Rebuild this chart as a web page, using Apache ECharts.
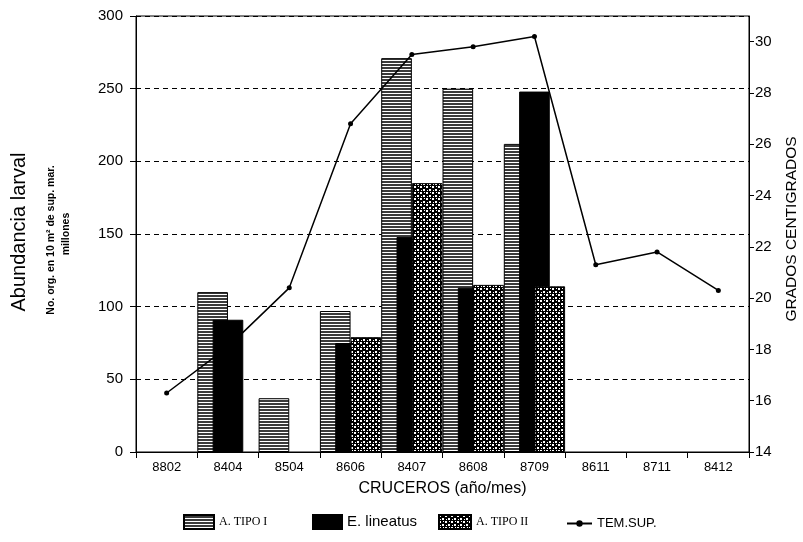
<!DOCTYPE html>
<html>
<head>
<meta charset="utf-8">
<script src="https://cdn.jsdelivr.net/npm/echarts@6/dist/echarts.min.js"></script>
<style>
  html, body { margin: 0; padding: 0; background: #fff; }
  #chart { width: 803px; height: 542px; }
</style>
</head>
<body>
<div id="chart"></div>
<script>
// Cruises (year/month)
const categories = ['8802', '8404', '8504', '8606', '8407', '8608', '8709', '8611', '8711', '8412'];
// Larval abundance, millions of organisms per 10 m² of sea surface
const tipoI = [null, 110, 37, 97, 271, 250, 212, null, null, null];
const lineatus = [null, 91, null, 75, 148, 113, 248, null, null, null];
const tipoII = [null, null, null, 79, 185, 115, 114, null, null, null];
// Surface temperature (°C)
const temSup = [16.3, 18.1, 20.4, 26.8, 29.5, 29.8, 30.2, 21.3, 21.8, 20.3];

const leftTicks = [0, 50, 100, 150, 200, 250, 300];
const rightTicks = [14, 16, 18, 20, 22, 24, 26, 28, 30];

// Horizontal hatching fill
function stripePattern() {
  const c = document.createElement('canvas');
  c.width = 4; c.height = 3;
  const g = c.getContext('2d');
  g.fillStyle = '#ffffff'; g.fillRect(0, 0, 4, 3);
  g.fillStyle = '#3a3a3a'; g.fillRect(0, 1, 4, 2);
  return c;
}
// Black fill with white speckles
function speckPattern() {
  const c = document.createElement('canvas');
  c.width = 6; c.height = 6;
  const g = c.getContext('2d');
  g.fillStyle = '#000000'; g.fillRect(0, 0, 6, 6);
  g.fillStyle = '#ffffff';
  g.fillRect(0, 0, 2, 2);
  g.fillRect(3, 3, 2, 2);
  g.fillRect(4, 0, 1, 1);
  g.fillRect(1, 4, 1, 1);
  return c;
}

const stripeFill = { image: stripePattern(), repeat: 'repeat' };
const speckFill = { image: speckPattern(), repeat: 'repeat' };

const chart = echarts.init(document.getElementById('chart'), null, { renderer: 'canvas' });

const sans = 'Liberation Sans, Arial, sans-serif';
const serif = 'Liberation Serif, Times New Roman, serif';

function legendItem(name, left, top, width, height, icon, font, size) {
  return {
    data: [name], left: left, top: top, padding: 0,
    icon: icon, itemWidth: width, itemHeight: height, itemGap: 0,
    textStyle: { color: '#000', fontFamily: font, fontSize: size }
  };
}

chart.setOption({
  animation: false,
  backgroundColor: '#fff',
  grid: {
    left: 136, right: 54, top: 16, bottom: 90,
    show: true, borderColor: '#000', borderWidth: 1, backgroundColor: 'transparent'
  },
  xAxis: {
    type: 'category',
    data: categories,
    boundaryGap: true,
    axisLine: { lineStyle: { color: '#000', width: 1 } },
    axisTick: { show: true, interval: 0, length: 6, lineStyle: { color: '#000' } },
    axisLabel: { color: '#000', fontFamily: sans, fontSize: 13, margin: 9, interval: 0 },
    name: 'CRUCEROS (año/mes)',
    nameLocation: 'middle',
    nameGap: 29,
    nameTextStyle: { color: '#000', fontFamily: sans, fontSize: 16 }
  },
  yAxis: [
    {
      type: 'value',
      min: leftTicks[0], max: leftTicks[leftTicks.length - 1], interval: 50,
      axisLine: { show: true, lineStyle: { color: '#000' } },
      axisTick: { show: true, length: 6, lineStyle: { color: '#000' } },
      axisLabel: { color: '#000', fontFamily: sans, fontSize: 15, margin: 13 },
      splitLine: { show: true, lineStyle: { color: '#000', type: [5, 4], width: 1 } }
    },
    {
      type: 'value',
      position: 'right',
      min: rightTicks[0], max: 31, interval: 2,
      axisLine: { show: true, lineStyle: { color: '#000' } },
      axisTick: { show: true, length: 5, lineStyle: { color: '#000' } },
      axisLabel: { color: '#000', fontFamily: sans, fontSize: 15, margin: 6, showMaxLabel: false,
        formatter: v => (rightTicks.indexOf(v) >= 0 ? String(v) : '') },
      splitLine: { show: false }
    }
  ],
  legend: [
    legendItem('A. TIPO I', 183, 514, 30, 14, 'rect', serif, 12),
    legendItem('E. lineatus', 312, 514, 29, 14, 'rect', sans, 15),
    legendItem('A. TIPO II', 438, 514, 32, 14, 'rect', serif, 12),
    legendItem('TEM.SUP.', 566, 517, 25, 8, undefined, sans, 13)
  ],
  graphic: [
    { type: 'text', x: 19, y: 232, rotation: Math.PI / 2,
      style: { text: 'Abundancia larval', fill: '#000', font: '20px ' + sans, textAlign: 'center', textVerticalAlign: 'middle' } },
    { type: 'text', x: 51, y: 240, rotation: Math.PI / 2,
      style: { text: 'No. org. en 10 m² de sup. mar.', fill: '#000', font: 'bold 10.5px ' + sans, textAlign: 'center', textVerticalAlign: 'middle' } },
    { type: 'text', x: 66, y: 234, rotation: Math.PI / 2,
      style: { text: 'millones', fill: '#000', font: 'bold 10.5px ' + sans, textAlign: 'center', textVerticalAlign: 'middle' } },
    { type: 'text', x: 792, y: 229, rotation: Math.PI / 2,
      style: { text: 'GRADOS CENTIGRADOS', fill: '#000', font: '15.5px ' + sans, textAlign: 'center', textVerticalAlign: 'middle' } }
  ],
  series: [
    {
      name: 'A. TIPO I', type: 'bar', yAxisIndex: 0, data: tipoI,
      barWidth: '50%', barGap: '-50%',
      itemStyle: { color: stripeFill, borderColor: '#000', borderWidth: 1 }
    },
    {
      name: 'E. lineatus', type: 'bar', yAxisIndex: 0, data: lineatus,
      barWidth: '50%', barGap: '-50%',
      itemStyle: { color: '#000', borderColor: '#000', borderWidth: 1 }
    },
    {
      name: 'A. TIPO II', type: 'bar', yAxisIndex: 0, data: tipoII,
      barWidth: '50%', barGap: '-50%',
      itemStyle: { color: speckFill, borderColor: '#000', borderWidth: 1 }
    },
    {
      name: 'TEM.SUP.', type: 'line', yAxisIndex: 1, data: temSup, z: 5,
      symbol: 'circle', symbolSize: 5,
      lineStyle: { color: '#000', width: 1.5 },
      itemStyle: { color: '#000' }
    }
  ]
});
</script>
</body>
</html>
